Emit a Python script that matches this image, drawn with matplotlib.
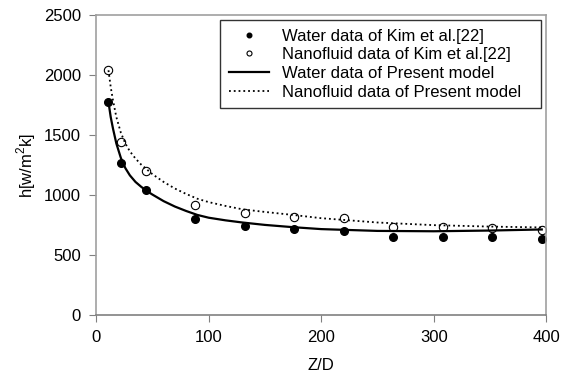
import numpy as np
import matplotlib
matplotlib.use("Agg")
from matplotlib import pyplot as plt

plt.rcParams['font.family'] = ['Liberation Sans', 'DejaVu Sans']
plt.rcParams['mathtext.fontset'] = 'custom'
plt.rcParams['mathtext.rm'] = 'Liberation Sans'

# datos experimentales (Kim et al.)
zd_exp = [11, 22, 44, 88, 132, 176, 220, 264, 308, 352, 396]
h_agua_exp = [1775, 1267, 1042, 800, 742, 717, 700, 650, 650, 650, 633]
h_nano_exp = [2040, 1444, 1203, 917, 850, 819, 811, 736, 731, 728, 708]

# curvas del modelo
zd_mod = [11, 13, 15, 18, 22, 26, 30, 35, 40, 45, 50, 60, 70, 80, 90, 100,
          115, 130, 150, 175, 200, 250, 300, 350, 396]
h_agua_mod = [1775, 1650, 1555, 1430, 1310, 1225, 1165, 1110, 1070, 1035, 1005, 950, 905,
              868, 835, 812, 790, 772, 752, 733, 717, 702, 699, 705, 714]
h_nano_mod = [2040, 1900, 1790, 1650, 1520, 1430, 1365, 1305, 1255, 1215, 1175, 1110, 1055,
              1010, 970, 942, 910, 882, 860, 835, 808, 772, 750, 738, 731]

fig = plt.figure(figsize=(5.72, 3.77), dpi=100)
ax = fig.add_axes([0.168, 0.164, 0.787, 0.796])

ax.plot(zd_exp, h_agua_exp, 'o', color='black', markersize=5.5, label='Water data of Kim et al.[22]')
ax.plot(zd_exp, h_nano_exp, 'o', markerfacecolor='white', markeredgecolor='black',
        markeredgewidth=0.8, markersize=6, label='Nanofluid data of Kim et al.[22]')
ax.plot(zd_mod, h_agua_mod, '-', color='black', linewidth=1.6, label='Water data of Present model')
ax.plot(zd_mod, h_nano_mod, ':', color='black', linewidth=1.3, label='Nanofluid data of Present model')

ax.set_xlim(0, 400)
ax.set_ylim(0, 2500)
ax.set_xticks([0, 100, 200, 300, 400])
ax.set_yticks([0, 500, 1000, 1500, 2000, 2500])

for s in ax.spines.values():
    s.set_color('#a0a0a0')
    s.set_linewidth(1.2)
ax.spines['bottom'].set_color('#808080')
ax.tick_params(direction='out', length=5, color='#808080', labelsize=12, pad=6)

ax.set_xlabel('Z/D', fontsize=12, labelpad=9)
ax.set_ylabel(r'h[w/m$^2$k]', fontsize=12, labelpad=4)

# leyenda expandida para ocupar el mismo recuadro que el original
leg = ax.legend(loc='upper left', mode='expand', bbox_to_anchor=(0.276, 0.683, 0.713, 0.3),
                fontsize=12, frameon=True, fancybox=False, edgecolor='black',
                borderpad=0.5, labelspacing=0.22, handlelength=2.4,
                handletextpad=0.8, markerscale=0.6, borderaxespad=0)
leg.get_frame().set_linewidth(1.0)

fig.savefig('out.png', dpi=100)
